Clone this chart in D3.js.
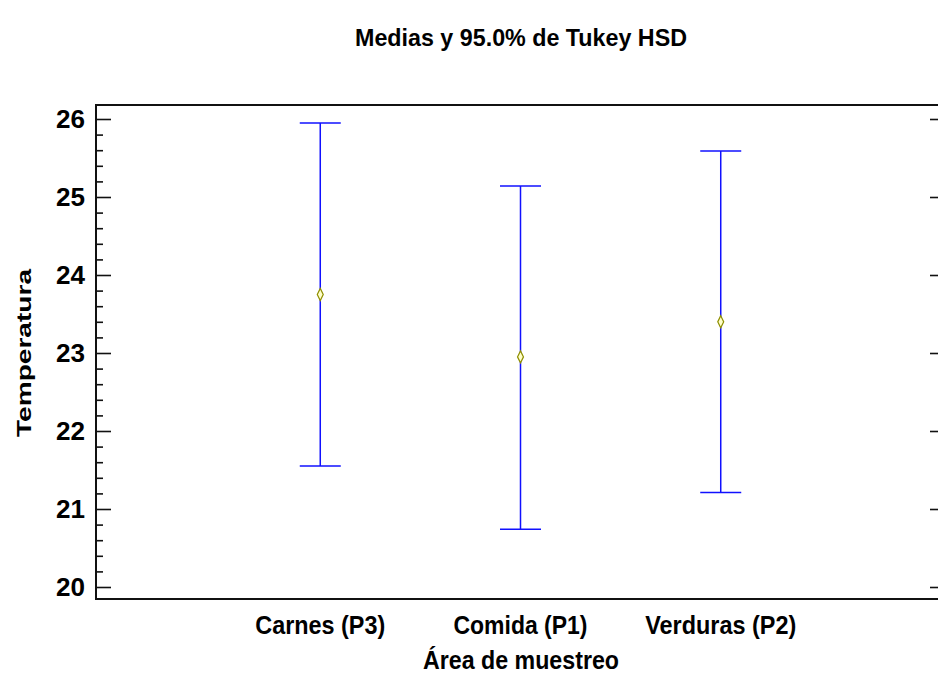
<!DOCTYPE html>
<html>
<head>
<meta charset="utf-8">
<script src="https://cdn.jsdelivr.net/npm/d3@7"></script>
<style>
  html, body { margin: 0; padding: 0; background: #fff; }
  svg { display: block; }
  text { font-family: "Liberation Sans", Arial, sans-serif; font-weight: bold; fill: #000; }
</style>
</head>
<body>
<script>
const categories = ["Carnes (P3)", "Comida (P1)", "Verduras (P2)"];
const means = [23.75, 22.95, 23.40];
const lower = [21.55, 20.74, 21.21];
const upper = [25.95, 25.14, 25.59];
const yTicks = [20, 21, 22, 23, 24, 25, 26];
const titleText = "Medias y 95.0% de Tukey HSD";
const xTitle = "Área de muestreo";
const yTitle = "Temperatura";

const W = 938, H = 674;
const frame = { left: 96, top: 105, right: 945, bottom: 599 };

const svg = d3.select("body").append("svg").attr("width", W).attr("height", H);

const x = d3.scalePoint().domain(categories).range([frame.left, frame.right]).padding(1.12);
const y = d3.scaleLinear().domain([20, 26]).range([587, 119]);

// Frame
svg.append("rect")
  .attr("x", frame.left).attr("y", frame.top)
  .attr("width", frame.right - frame.left).attr("height", frame.bottom - frame.top)
  .attr("fill", "none").attr("stroke", "#111").attr("stroke-width", 2);

// Left axis: inward ticks (major + minor)
const minorTicks = d3.range(0, 31).map(i => 20 + i * 0.2).filter(v => Math.abs(v - Math.round(v)) > 1e-6);
const leftAxisMajor = d3.axisRight(y).tickValues(yTicks).tickSize(15).tickFormat("");
const leftAxisMinor = d3.axisRight(y).tickValues(minorTicks).tickSize(7).tickFormat("");
[leftAxisMajor, leftAxisMinor].forEach(ax => {
  const g = svg.append("g").attr("transform", `translate(${frame.left},0)`).call(ax);
  g.select(".domain").remove();
  g.selectAll("line").attr("stroke", "#111").attr("stroke-width", 1.6);
});

// Left tick labels
svg.append("g").selectAll("text").data(yTicks).join("text")
  .attr("x", 85).attr("y", d => y(d)).attr("dy", "0.36em")
  .attr("text-anchor", "end").attr("font-size", 25)
  .attr("textLength", 29).attr("lengthAdjust", "spacingAndGlyphs")
  .text(d => d);

// Right axis: inward major ticks
const rightAxis = d3.axisLeft(y).tickValues(yTicks).tickSize(15).tickFormat("");
const rg = svg.append("g").attr("transform", `translate(${frame.right},0)`).call(rightAxis);
rg.select(".domain").remove();
rg.selectAll("line").attr("stroke", "#111").attr("stroke-width", 1.6);

// Error bars
const capW = 41;
const gBars = svg.append("g");
categories.forEach((c, i) => {
  const cx = x(c);
  gBars.append("line").attr("x1", cx).attr("x2", cx).attr("y1", y(lower[i])).attr("y2", y(upper[i]))
    .attr("stroke", "#1010ff").attr("stroke-width", 1.5);
  [lower[i], upper[i]].forEach(v => {
    gBars.append("line").attr("x1", cx - capW / 2).attr("x2", cx + capW / 2).attr("y1", y(v)).attr("y2", y(v))
      .attr("stroke", "#1010ff").attr("stroke-width", 1.5);
  });
});

// Mean markers
svg.append("g").selectAll("path").data(categories).join("path")
  .attr("transform", (d, i) => `translate(${x(d)},${y(means[i])}) scale(0.85,1)`)
  .attr("d", d3.symbol().type(d3.symbolDiamond).size(42))
  .attr("fill", "#ffffcc").attr("stroke", "#8f8f00").attr("stroke-width", 1.4);

// Category labels
const catWidths = [130, 134, 151];
svg.append("g").selectAll("text").data(categories).join("text")
  .attr("x", d => x(d)).attr("y", 634)
  .attr("text-anchor", "middle").attr("font-size", 26)
  .attr("textLength", (d, i) => catWidths[i]).attr("lengthAdjust", "spacingAndGlyphs")
  .text(d => d);

// Axis titles
svg.append("text").attr("x", 521).attr("y", 669).attr("text-anchor", "middle")
  .attr("font-size", 26).attr("textLength", 196).attr("lengthAdjust", "spacingAndGlyphs")
  .text(xTitle);

svg.append("text")
  .attr("transform", "translate(31,353) rotate(-90)")
  .attr("text-anchor", "middle").attr("font-size", 20)
  .attr("textLength", 168).attr("lengthAdjust", "spacingAndGlyphs")
  .text(yTitle);

// Title
svg.append("text").attr("x", 521).attr("y", 46).attr("text-anchor", "middle")
  .attr("font-size", 24).attr("textLength", 332).attr("lengthAdjust", "spacingAndGlyphs")
  .text(titleText);
</script>
</body>
</html>
